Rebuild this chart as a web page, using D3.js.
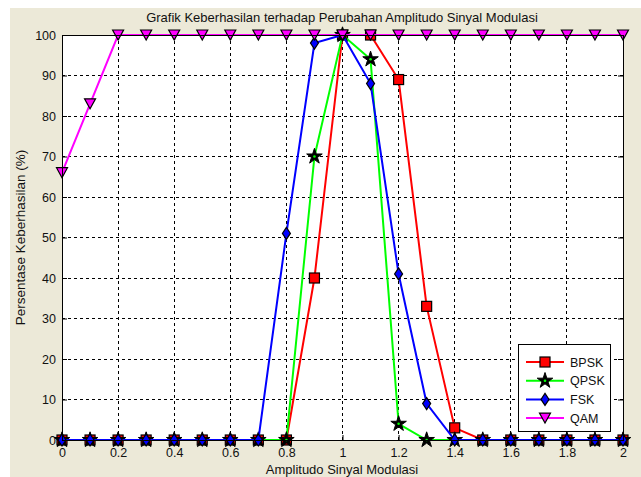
<!DOCTYPE html>
<html><head><meta charset="utf-8">
<script src="https://cdn.jsdelivr.net/npm/d3@7"></script>
<style>body{margin:0;background:#fff}svg{display:block}text{font-family:"Liberation Sans",Arial,sans-serif}</style>
</head><body>
<script>
const xValues = [0,0.1,0.2,0.3,0.4,0.5,0.6,0.7,0.8,0.9,1.0,1.1,1.2,1.3,1.4,1.5,1.6,1.7,1.8,1.9,2.0];
const bpsk = [0,0,0,0,0,0,0,0,0,40,100,100,89,33,3,0,0,0,0,0,0];
const qpsk = [0,0,0,0,0,0,0,0,0,70,100,94,4,0,0,0,0,0,0,0,0];
const fsk  = [0,0,0,0,0,0,0,0,51,98,100,88,41,9,0,0,0,0,0,0,0];
const qam  = [66,83,100,100,100,100,100,100,100,100,100,100,100,100,100,100,100,100,100,100,100];
const xTicks = [0,0.2,0.4,0.6,0.8,1,1.2,1.4,1.6,1.8,2];
const yTicks = [0,10,20,30,40,50,60,70,80,90,100];
const seriesNames = ["BPSK","QPSK","FSK","QAM"];
const title = "Grafik Keberhasilan terhadap Perubahan Amplitudo Sinyal Modulasi";
const xLabel = "Amplitudo Sinyal Modulasi";
const yLabel = "Persentase Keberhasilan (%)";

const W=641,H=477;
const L=62,R=623,T=35,B=440;
const svg=d3.select("body").append("svg").attr("width",W).attr("height",H);
svg.append("rect").attr("x",10).attr("y",8).attr("width",W-10).attr("height",H-8).attr("fill","#ece9d8");
svg.append("rect").attr("x",L).attr("y",T).attr("width",R-L).attr("height",B-T).attr("fill","#fff");
const x=d3.scaleLinear().domain([0,2]).range([L,R]);
const y=d3.scaleLinear().domain([0,100]).range([B,T]);
// grid
const g=svg.append("g");
xTicks.forEach(t=>{ if(t>0&&t<2) g.append("line").attr("x1",x(t)).attr("x2",x(t)).attr("y1",T).attr("y2",B).attr("stroke","#000").attr("stroke-dasharray","3,3").attr("stroke-width",1).attr("shape-rendering","crispEdges");});
yTicks.forEach(t=>{ if(t>0&&t<100) g.append("line").attr("x1",L).attr("x2",R).attr("y1",y(t)).attr("y2",y(t)).attr("stroke","#000").attr("stroke-dasharray","3,3").attr("stroke-width",1).attr("shape-rendering","crispEdges");});
// axes
const xa=d3.axisBottom(x).tickValues(xTicks).tickSize(-5).tickPadding(8).tickFormat(d3.format("~g"));
const ya=d3.axisLeft(y).tickValues(yTicks).tickSize(-5).tickPadding(6);
const xt=d3.axisTop(x).tickValues(xTicks).tickSize(-5).tickFormat("");
const yr=d3.axisRight(y).tickValues(yTicks).tickSize(-5).tickFormat("");
function style(sel){sel.selectAll("path").attr("stroke","#000");sel.selectAll("line").attr("stroke","#000");sel.selectAll("text").attr("font-size",12.5).attr("fill","#111").attr("font-family","Liberation Sans, Arial, sans-serif");}
svg.append("g").attr("transform",`translate(0,${B})`).call(xa).call(style);
svg.append("g").attr("transform",`translate(${L},0)`).call(ya).call(style);
svg.append("g").attr("transform",`translate(0,${T})`).call(xt).call(style);
svg.append("g").attr("transform",`translate(${R},0)`).call(yr).call(style);

const colors=["#ff0000","#00ff00","#0000ff","#ff00ff"];
const data=[bpsk,qpsk,fsk,qam];
const line=d3.line().x((d,i)=>x(xValues[i])).y(d=>y(d));
function marker(sel,k,cx,cy){
  if(k===0) sel.append("rect").attr("x",cx-5).attr("y",cy-5).attr("width",10).attr("height",10).attr("fill","#ff0000").attr("stroke","#000").attr("stroke-width",1.2);
  else if(k===1){ const s=d3.symbol().type(d3.symbolStar).size(75)(); sel.append("path").attr("d",s).attr("transform",`translate(${cx},${cy})`).attr("fill","#000").attr("stroke","#000").attr("stroke-width",1);
    sel.append("circle").attr("cx",cx).attr("cy",cy).attr("r",1.3).attr("fill","#00ff00");}
  else if(k===2) sel.append("path").attr("d",`M${cx},${cy-6}L${cx+4},${cy}L${cx},${cy+6}L${cx-4},${cy}Z`).attr("fill","#0000ff").attr("stroke","#000").attr("stroke-width",1.2);
  else sel.append("path").attr("d",`M${cx-5.5},${cy-5}L${cx+5.5},${cy-5}L${cx},${cy+5}Z`).attr("fill","#ff00ff").attr("stroke","#000").attr("stroke-width",1.2);
}
const plot=svg.append("g");
data.forEach((vals,k)=>{
  plot.append("path").datum(vals).attr("d",line).attr("fill","none").attr("stroke",colors[k]).attr("stroke-width",2);
  const mg=plot.append("g");
  vals.forEach((v,i)=>marker(mg,k,x(xValues[i]),y(v)));
});
// border on top
svg.append("rect").attr("x",L).attr("y",T).attr("width",R-L).attr("height",B-T).attr("fill","none").attr("stroke","#000").attr("shape-rendering","crispEdges");

svg.append("text").attr("x",342).attr("y",22).attr("text-anchor","middle").attr("font-size",13).attr("fill","#111").text(title);
svg.append("text").attr("x",342).attr("y",474).attr("text-anchor","middle").attr("font-size",13).attr("fill","#111").text(xLabel);
svg.append("text").attr("transform",`translate(25,${(T+B)/2}) rotate(-90)`).attr("text-anchor","middle").attr("font-size",13.5).attr("fill","#111").text(yLabel);

// legend
const lg=svg.append("g");
lg.append("rect").attr("x",518.5).attr("y",344.5).attr("width",92).attr("height",87).attr("fill","#fff").attr("stroke","#000");
seriesNames.forEach((n,k)=>{
  const ly=362+k*18.7;
  lg.append("line").attr("x1",526).attr("x2",564).attr("y1",ly).attr("y2",ly).attr("stroke",colors[k]).attr("stroke-width",2);
  marker(lg,k,545,ly);
  lg.append("text").attr("x",570).attr("y",ly+4.5).attr("font-size",12.5).attr("fill","#111").text(n);
});
</script>
</body></html>
